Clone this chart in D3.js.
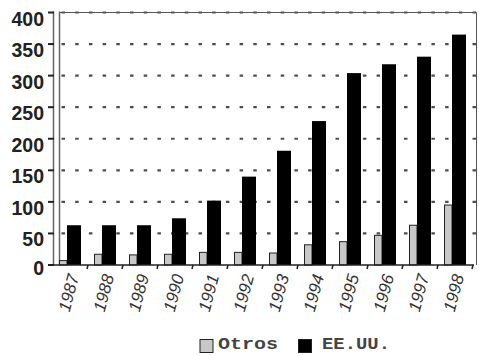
<!DOCTYPE html>
<html><head><meta charset="utf-8">
<script src="https://cdn.jsdelivr.net/npm/d3@7"></script>
<style>body{margin:0;background:#fff}svg{display:block}</style>
</head><body>
<script>
const years = ["1987","1988","1989","1990","1991","1992","1993","1994","1995","1996","1997","1998"];
const otros = [7, 17, 16, 17, 20, 20, 19, 32, 37, 47, 63, 95];
const eeuu  = [63, 63, 63, 74, 102, 140, 181, 228, 304, 318, 330, 365];
const yTicks = [0, 50, 100, 150, 200, 250, 300, 350, 400];
const seriesNames = ["Otros", "EE.UU."];

const W = 479, H = 356;
const svg = d3.select("body").append("svg").attr("width", W).attr("height", H);

const y = d3.scaleLinear().domain([0, 400]).range([265, 12.5]);
const x = d3.scaleBand().domain(years).range([53, 473]).padding(0);
const bw = x.bandwidth();
const plotL = 59.5, plotR = 476.5;

// gridlines
svg.append("g").selectAll("line").data(yTicks.filter(d => d > 0)).join("line")
  .attr("x1", plotL + 2).attr("x2", plotR)
  .attr("y1", d => y(d)).attr("y2", d => y(d))
  .attr("stroke", "#222").attr("stroke-width", 2.2).attr("stroke-opacity", 0.8)
  .attr("stroke-dasharray", "3.5,10.2");

// top and right border
svg.append("line").attr("x1", plotL).attr("x2", plotR).attr("y1", y(400)).attr("y2", y(400))
  .attr("stroke", "#555").attr("stroke-width", 1);
svg.append("line").attr("x1", plotR).attr("x2", plotR).attr("y1", y(400)).attr("y2", y(0))
  .attr("stroke", "#555").attr("stroke-width", 1);

// left wall lines
[53.5, 59.5].forEach(xx => svg.append("line").attr("x1", xx).attr("x2", xx)
  .attr("y1", y(400) - 1).attr("y2", y(0)).attr("stroke", "#666").attr("stroke-width", 1.5));

// y ticks and labels
const yg = svg.append("g");
yg.selectAll("line").data(yTicks).join("line")
  .attr("x1", 48).attr("x2", 54).attr("y1", d => y(d)).attr("y2", d => y(d))
  .attr("stroke", "#222").attr("stroke-width", 2);
yg.selectAll("text").data(yTicks).join("text")
  .attr("x", 44).attr("y", d => y(d) + (d === 0 ? 3 : 6))
  .attr("text-anchor", "end").attr("dominant-baseline", "central")
  .attr("font-family", "Liberation Sans, Arial, sans-serif").attr("font-weight", "bold")
  .attr("font-size", 19.5).attr("fill", "#222")
  .text(d => d);

// bars
const bars = svg.append("g");
bars.selectAll("rect.o").data(years).join("rect").attr("class", "o")
  .attr("x", d => x(d) + 6.5).attr("width", 7.5)
  .attr("y", (d, i) => y(otros[i])).attr("height", (d, i) => y(0) - y(otros[i]))
  .attr("fill", "#c8c8c8").attr("stroke", "#222").attr("stroke-width", 1);
bars.selectAll("rect.e").data(years).join("rect").attr("class", "e")
  .attr("x", d => x(d) + 14).attr("width", 14)
  .attr("y", (d, i) => y(eeuu[i])).attr("height", (d, i) => y(0) - y(eeuu[i]))
  .attr("fill", "#000");

// baseline and x ticks
svg.append("line").attr("x1", 53).attr("x2", 474).attr("y1", y(0)).attr("y2", y(0))
  .attr("stroke", "#222").attr("stroke-width", 1.5);
svg.append("g").selectAll("line").data(years.slice(1).concat(["end"])).join("line")
  .attr("x1", (d, i) => 53 + (i + 1) * bw).attr("x2", (d, i) => 53 + (i + 1) * bw - 1)
  .attr("y1", y(0)).attr("y2", y(0) + 4)
  .attr("stroke", "#222").attr("stroke-width", 1.5);

// x labels
svg.append("g").selectAll("text").data(years).join("text")
  .attr("transform", d => `translate(${x(d) + bw / 2 - 1.5},293) rotate(-75)`)
  .attr("text-anchor", "middle").attr("dominant-baseline", "central")
  .attr("font-family", "Liberation Sans, Arial, sans-serif").attr("font-style", "italic")
  .attr("font-size", 17).attr("fill", "#333")
  .text(d => d);

// legend
const leg = svg.append("g");
const legItems = [
  {name: seriesNames[0], bx: 200, tx: 218, tw: 60, fill: "#c8c8c8"},
  {name: seriesNames[1], bx: 298.5, tx: 322, tw: 68, fill: "#000"}
];
legItems.forEach(it => {
  leg.append("rect").attr("x", it.bx).attr("y", 339.5).attr("width", 13).attr("height", 13)
    .attr("fill", it.fill).attr("stroke", "#222").attr("stroke-width", 1);
  leg.append("text").attr("x", it.tx).attr("y", 349)
    .attr("font-family", "Liberation Mono, Courier New, monospace").attr("font-weight", "bold")
    .attr("font-size", 17).attr("fill", "#444")
    .attr("textLength", it.tw).attr("lengthAdjust", "spacingAndGlyphs")
    .text(it.name);
});
</script>
</body></html>
